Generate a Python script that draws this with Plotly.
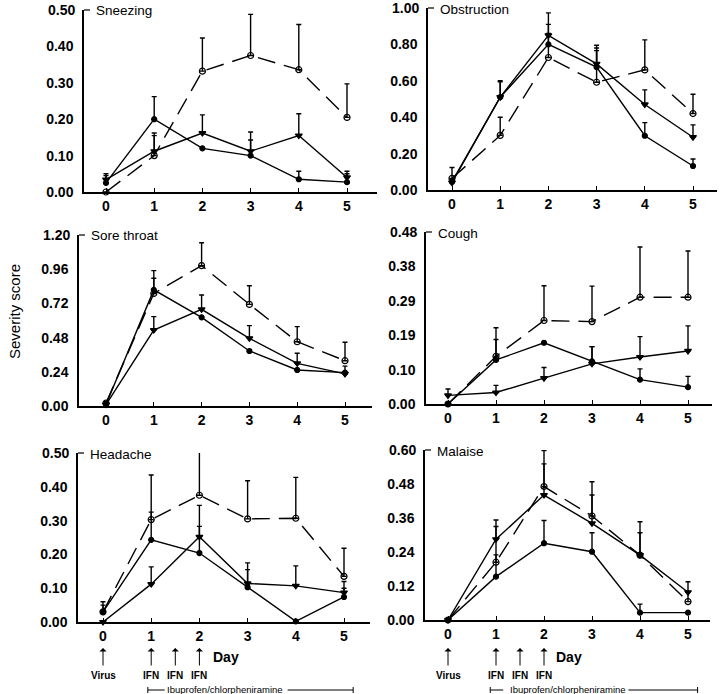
import plotly.graph_objects as go
import numpy as np

days = [0, 1, 2, 3, 4, 5]
W, H = 720, 694

panel_titles = ["Sneezing", "Obstruction", "Sore throat", "Cough", "Headache", "Malaise"]

# series A: filled circles, solid; B: triangles, solid; C: open circles, dashed
sneezing_a = [0.025, 0.20, 0.12, 0.10, 0.035, 0.027]
sneezing_a_up = [0.05, 0.262, None, 0.143, 0.057, 0.05]
sneezing_b = [0.034, 0.112, 0.162, 0.112, 0.155, 0.04]
sneezing_b_up = [0.045, 0.162, 0.212, 0.165, 0.215, 0.057]
sneezing_c = [0.0, 0.10, 0.332, 0.375, 0.336, 0.205]
sneezing_c_up = [None, 0.155, 0.423, 0.488, 0.46, 0.297]

obstruction_a = [0.046, 0.51, 0.80, 0.675, 0.298, 0.132]
obstruction_a_up = [None, 0.60, 0.91, 0.766, 0.37, 0.17]
obstruction_b = [0.04, 0.51, 0.85, 0.693, 0.47, 0.29]
obstruction_b_up = [None, 0.595, 0.973, 0.795, 0.55, 0.358]
obstruction_c = [0.064, 0.30, 0.728, 0.592, 0.66, 0.42]
obstruction_c_up = [0.124, 0.40, 0.86, 0.78, 0.825, 0.526]

sore_a = [0.01, 0.815, 0.622, 0.386, 0.253, 0.234]
sore_a_up = [0.03, 0.95, None, None, None, None]
sore_b = [0.01, 0.533, 0.678, 0.475, 0.299, 0.225]
sore_b_up = [None, 0.627, 0.779, 0.564, 0.37, 0.28]
sore_c = [0.02, 0.79, 0.985, 0.713, 0.451, 0.318]
sore_c_up = [None, 0.896, 1.146, 0.844, 0.557, 0.447]

cough_a = [0.0, 0.123, 0.171, 0.119, 0.068, 0.047]
cough_a_up = [None, 0.18, None, 0.16, 0.098, 0.077]
cough_b = [0.024, 0.032, 0.072, 0.112, 0.131, 0.148]
cough_b_up = [0.042, 0.052, 0.102, 0.16, 0.188, 0.218]
cough_c = [0.0, 0.133, 0.233, 0.23, 0.298, 0.298]
cough_c_up = [None, 0.213, 0.33, 0.329, 0.438, 0.427]
cough_tickvals = [0.0, 0.096, 0.192, 0.288, 0.384, 0.48]
cough_ticktext = ["0.00", "0.10", "0.19", "0.29", "0.38", "0.48"]

headache_a = [0.03, 0.243, 0.204, 0.103, 0.002, 0.074]
headache_a_up = [0.06, 0.325, 0.283, 0.155, None, 0.10]
headache_b = [0.0, 0.112, 0.252, 0.114, 0.107, 0.087]
headache_b_up = [None, 0.163, 0.345, 0.175, 0.166, 0.12]
headache_c = [0.03, 0.303, 0.375, 0.305, 0.307, 0.135]
headache_c_up = [0.05, 0.435, 0.505, 0.418, 0.428, 0.218]

malaise_a = [0.0, 0.153, 0.271, 0.241, 0.026, 0.026]
malaise_a_up = [None, 0.23, 0.351, 0.308, 0.056, None]
malaise_b = [0.0, 0.285, 0.441, 0.341, 0.229, 0.098]
malaise_b_up = [None, 0.353, 0.551, 0.441, 0.308, 0.135]
malaise_c = [0.0, 0.204, 0.471, 0.367, 0.229, 0.065]
malaise_c_up = [None, 0.33, 0.598, 0.488, 0.347, 0.1]

panel_data = [
    (sneezing_a, sneezing_a_up, sneezing_b, sneezing_b_up, sneezing_c, sneezing_c_up),
    (obstruction_a, obstruction_a_up, obstruction_b, obstruction_b_up, obstruction_c, obstruction_c_up),
    (sore_a, sore_a_up, sore_b, sore_b_up, sore_c, sore_c_up),
    (cough_a, cough_a_up, cough_b, cough_b_up, cough_c, cough_c_up),
    (headache_a, headache_a_up, headache_b, headache_b_up, headache_c, headache_c_up),
    (malaise_a, malaise_a_up, malaise_b, malaise_b_up, malaise_c, malaise_c_up),
]

y_max = [0.50, 1.00, 1.20, 0.48, 0.50, 0.60]
y_ticks = [
    [0.0, 0.1, 0.2, 0.3, 0.4, 0.5],
    [0.0, 0.2, 0.4, 0.6, 0.8, 1.0],
    [0.0, 0.24, 0.48, 0.72, 0.96, 1.20],
    cough_tickvals,
    [0.0, 0.1, 0.2, 0.3, 0.4, 0.5],
    [0.0, 0.12, 0.24, 0.36, 0.48, 0.60],
]
y_ticktext = [
    ["0.00", "0.10", "0.20", "0.30", "0.40", "0.50"],
    ["0.00", "0.20", "0.40", "0.60", "0.80", "1.00"],
    ["0.00", "0.24", "0.48", "0.72", "0.96", "1.20"],
    cough_ticktext,
    ["0.00", "0.10", "0.20", "0.30", "0.40", "0.50"],
    ["0.00", "0.12", "0.24", "0.36", "0.48", "0.60"],
]

arrow_days = [0, 1, 1.5, 2]
arrow_labels = ["Virus", "IFN", "IFN", "IFN"]
drug_label = "Ibuprofen/chlorpheniramine"

# panel geometry in pixels: (yaxis_x, day0_x, day5_x, xaxis_end, y0_px, ytop_px)
geom = [
    (84, 106, 347, 377, 192, 10),
    (428, 452, 693, 717, 190, 8),
    (79, 106, 345, 372, 406, 235),
    (426, 448, 688, 712, 404, 232),
    (78, 103, 344, 370, 622, 453),
    (425, 448, 688, 710, 620, 450),
]

def px(p):
    return p / W

def py(p):
    return 1 - p / H

fig = go.Figure()
layout = dict(width=W, height=H, margin=dict(l=0, r=0, t=0, b=0, autoexpand=False),
              template="none",
              paper_bgcolor="white", plot_bgcolor="white", showlegend=False)

tick_font = dict(family="Liberation Sans, Arial, sans-serif", size=14, color="black", weight="bold")
title_font = dict(family="Liberation Sans Narrow, Liberation Sans, Arial", size=13.5, color="black")
small_font = dict(family="Liberation Sans, Arial", size=9.5, color="black")

annotations = []
shapes = []

for i in range(6):
    ax_id = "" if i == 0 else str(i + 1)
    xa, ya = "x" + ax_id, "y" + ax_id
    yx, d0, d5, xend, y0, ytop = geom[i]
    scale = (d5 - d0) / 5.0
    xr = [(yx - d0) / scale, 5 + (xend - d5) / scale]
    layout["xaxis" + ax_id] = dict(
        domain=[px(yx), px(xend)], range=xr, anchor=ya, automargin=False,
        tickvals=days, ticktext=[str(d) for d in days],
        ticks="inside", ticklen=4, tickcolor="black", tickwidth=1,
        showline=True, linecolor="black", linewidth=1.5,
        showgrid=False, zeroline=False, tickfont=tick_font, fixedrange=True)
    layout["yaxis" + ax_id] = dict(
        domain=[py(y0), py(ytop)], range=[0, y_max[i]], anchor=xa, automargin=False,
        tickvals=y_ticks[i][:-1], ticktext=y_ticktext[i][:-1], ticks="",
        ticklabelstandoff=6,
        showline=True, linecolor="black", linewidth=1.5,
        showgrid=False, zeroline=False, tickfont=tick_font, fixedrange=True)
    # top tick label as annotation (avoids being dropped at the page edge)
    annotations.append(dict(text=y_ticktext[i][-1], x=px(yx - 7), y=py(ytop),
                            xref="paper", yref="paper", xanchor="right", yanchor="middle",
                            showarrow=False, font=tick_font))

    a, a_up, b, b_up, c, c_up = panel_data[i]
    series = [
        (a, a_up, "circle", "solid", 5),
        (b, b_up, "triangle-down", "solid", 6),
        (c, c_up, "circle-open", "18px,9px", 6),
    ]
    for vals, ups, sym, dash, msize in series:
        err = [np.nan if u is None else max(u - v, 0) for v, u in zip(vals, ups)]
        fig.add_trace(go.Scatter(
            x=days, y=vals, mode="lines+markers", xaxis=xa, yaxis=ya,
            line=dict(color="black", width=1.4, dash=dash),
            marker=dict(symbol=sym, size=msize, color="black",
                        line=dict(color="black", width=1.2)),
            error_y=dict(type="data", symmetric=False, array=err,
                         arrayminus=[0] * 6, color="black", thickness=1.4, width=2.5),
            cliponaxis=False, hoverinfo="skip"))

    # title and short top tick
    annotations.append(dict(text=panel_titles[i], x=px(yx + 10), y=py(ytop + 1),
                            xref="paper", yref="paper", xanchor="left", yanchor="middle",
                            showarrow=False, font=title_font))
    shapes.append(dict(type="line", xref="paper", yref="paper",
                       x0=px(yx), x1=px(yx + 6), y0=py(ytop), y1=py(ytop),
                       line=dict(color="black", width=1.2)))

# Severity score label
annotations.append(dict(text="Severity score", x=px(14), y=py(312), xref="paper", yref="paper",
                        xanchor="center", yanchor="middle",
                        textangle=-90, showarrow=False,
                        font=dict(family="Liberation Sans, Arial", size=15, color="black")))

# bottom annotations for headache (x5) and malaise (x6)
# (axis, Day-label px, text-centre day, line start, left gap end, right gap start, line end)
bottom = [("x5", 226, 2.53, 0.93, 1.28, 3.83, 5.19),
          ("x6", 569, 2.49, 0.88, 1.15, 3.76, 5.20)]
for xa, day_px, text_day, d_start, g0, g1, d_end in bottom:
    for d, lab in zip(arrow_days, arrow_labels):
        annotations.append(dict(x=d, y=py(648), xref=xa, yref="paper", text="",
                                showarrow=True, ax=0, ay=19, arrowhead=1, arrowsize=1.2,
                                arrowwidth=1, arrowcolor="black"))
        annotations.append(dict(x=d, y=py(675), xref=xa, yref="paper", text=lab,
                                showarrow=False, xanchor="center", yanchor="middle",
                                font=dict(family="Liberation Sans, Arial", size=10,
                                          color="black", weight="bold")))
    annotations.append(dict(x=px(day_px), y=py(657), xref="paper", yref="paper", text="Day",
                            showarrow=False, xanchor="center", yanchor="middle",
                            font=dict(family="Liberation Sans, Arial", size=14,
                                      color="black", weight="bold")))
    annotations.append(dict(x=text_day, y=py(689), xref=xa, yref="paper", text=drug_label,
                            showarrow=False, xanchor="center", yanchor="middle",
                            font=small_font))
    yl = py(690)
    shapes.append(dict(type="line", xref=xa, yref="paper", x0=d_start, x1=g0,
                       y0=yl, y1=yl, line=dict(color="black", width=1)))
    shapes.append(dict(type="line", xref=xa, yref="paper", x0=g1, x1=d_end,
                       y0=yl, y1=yl, line=dict(color="black", width=1)))
    for d in (d_start, d_end):
        shapes.append(dict(type="line", xref=xa, yref="paper", x0=d, x1=d,
                           y0=py(687), y1=py(693), line=dict(color="black", width=1)))

layout["annotations"] = annotations
layout["shapes"] = shapes
fig.update_layout(**layout)
fig.write_html("out.html", config={"displayModeBar": False},
               post_script="document.body.style.margin='0';document.body.style.overflow='hidden';")
